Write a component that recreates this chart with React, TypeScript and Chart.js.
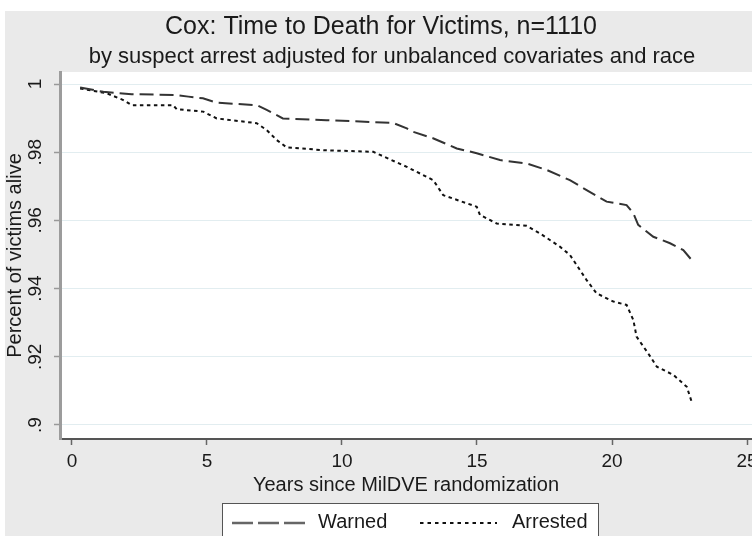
import React, { useEffect, useRef } from "react";
import { Chart, registerables } from "chart.js";

Chart.register(...registerables);

const titleText = "Cox: Time to Death for Victims, n=1110";
const subtitleText = "by suspect arrest adjusted for unbalanced covariates and race";
const xAxisTitle = "Years since MilDVE randomization";
const yAxisTitle = "Percent of victims alive";
const seriesLabels = ["Warned", "Arrested"];

const xTickValues = [0, 5, 10, 15, 20, 25];
const yTickValues = [0.9, 0.92, 0.94, 0.96, 0.98, 1];

const warnedYears = [0.3, 1.16, 2.21, 3.81, 4.31, 4.85, 5.36, 6.84, 7.21, 7.81, 9.43, 11.89, 12.4, 12.63, 13.37, 14.25, 14.99, 15.85, 16.84, 17.58, 18.44, 19.06, 19.8, 20.54, 20.79, 20.97, 21.53, 22.15, 22.64, 22.95];
const warnedSurv = [0.999, 0.9977, 0.997, 0.9968, 0.9963, 0.9958, 0.9945, 0.9938, 0.9924, 0.9899, 0.9894, 0.9886, 0.987, 0.986, 0.9841, 0.9811, 0.9797, 0.9777, 0.9767, 0.9748, 0.9718, 0.9689, 0.9655, 0.9645, 0.9621, 0.9587, 0.9552, 0.9533, 0.9513, 0.9484];

const arrestedYears = [0.3, 1.28, 1.9, 2.21, 3.74, 3.88, 4.86, 5.36, 6.84, 7.21, 7.58, 7.95, 9.31, 11.16, 11.41, 12.4, 13.38, 13.75, 14.99, 15.11, 15.73, 16.84, 17.33, 18.07, 18.44, 19.06, 19.43, 20.05, 20.54, 20.79, 20.91, 21.34, 21.66, 22.27, 22.77, 22.95];
const arrestedSurv = [0.9987, 0.9973, 0.9953, 0.9938, 0.9938, 0.9926, 0.9919, 0.9899, 0.9885, 0.9865, 0.9836, 0.9814, 0.9806, 0.9801, 0.9792, 0.9757, 0.9718, 0.9674, 0.964, 0.9616, 0.9591, 0.9584, 0.9562, 0.9523, 0.9499, 0.9425, 0.9386, 0.9362, 0.9352, 0.9308, 0.9259, 0.921, 0.9171, 0.9147, 0.9112, 0.9068];

const FONT = '"Liberation Sans", Arial, Helvetica, sans-serif';
const TEXT = "#1a1a1a";

const fmtY = (v: number) => {
  const s = Number(v).toFixed(2).replace(/0+$/, "").replace(/\.$/, "");
  return s.startsWith("0") ? s.slice(1) : s;
};

const decorPlugin = {
  id: "decor",
  beforeDraw(chart: any) {
    const { ctx, width, height, chartArea } = chart;
    ctx.save();
    ctx.fillStyle = "#ffffff";
    ctx.fillRect(0, 0, width, height);
    ctx.fillStyle = "#eaeaea";
    ctx.fillRect(5, 11, width - 5, height - 11);
    ctx.fillStyle = "#ffffff";
    ctx.fillRect(chartArea.left, chartArea.top, chartArea.right - chartArea.left, chartArea.bottom - chartArea.top);
    ctx.fillStyle = TEXT;
    ctx.textAlign = "center";
    ctx.textBaseline = "middle";
    ctx.font = `25px ${FONT}`;
    ctx.fillText(titleText, 381, 27);
    ctx.font = `22px ${FONT}`;
    ctx.fillText(subtitleText, 392, 57);
    ctx.restore();
  },
  afterDraw(chart: any) {
    const { ctx } = chart;
    const ds = chart.data.datasets;
    ctx.save();
    ctx.fillStyle = "#ffffff";
    ctx.fillRect(222.5, 503.5, 376, 40);
    ctx.strokeStyle = "#555";
    ctx.lineWidth = 1;
    ctx.setLineDash([]);
    ctx.strokeRect(222.5, 503.5, 376, 40);
    // Warned sample
    ctx.strokeStyle = "#666";
    ctx.lineWidth = 2.5;
    ctx.setLineDash([21, 5]);
    ctx.beginPath();
    ctx.moveTo(232, 523);
    ctx.lineTo(308, 523);
    ctx.stroke();
    // Arrested sample
    ctx.strokeStyle = ds[1].borderColor;
    ctx.lineWidth = 2;
    ctx.setLineDash([3.5, 4]);
    ctx.beginPath();
    ctx.moveTo(420, 523);
    ctx.lineTo(497, 523);
    ctx.stroke();
    ctx.setLineDash([]);
    ctx.fillStyle = TEXT;
    ctx.font = `20px ${FONT}`;
    ctx.textAlign = "left";
    ctx.textBaseline = "middle";
    ctx.fillText(ds[0].label, 318, 522);
    ctx.fillText(ds[1].label, 512, 522);
    ctx.restore();
  },
};

export default function App() {
  const ref = useRef<HTMLCanvasElement | null>(null);
  useEffect(() => {
    if (!ref.current) return;
    const chart = new Chart(ref.current, {
      type: "line",
      data: {
        datasets: [
          {
            label: seriesLabels[0],
            data: warnedYears.map((x, i) => ({ x, y: warnedSurv[i] })),
            borderColor: "#333333",
            borderWidth: 2,
            borderDash: [14, 6],
            pointRadius: 0,
            tension: 0,
            fill: false,
          },
          {
            label: seriesLabels[1],
            data: arrestedYears.map((x, i) => ({ x, y: arrestedSurv[i] })),
            borderColor: "#111111",
            borderWidth: 2,
            borderDash: [3.5, 3.5],
            pointRadius: 0,
            tension: 0,
            fill: false,
          },
        ],
      },
      options: {
        animation: false,
        responsive: false,
        maintainAspectRatio: false,
        layout: { padding: { left: 5, top: 72, right: 0, bottom: 39 } },
        plugins: {
          legend: { display: false },
          title: { display: false },
          tooltip: { enabled: false },
        },
        scales: {
          x: {
            type: "linear",
            min: -0.444,
            max: 25.185,
            afterBuildTicks: (s: any) => {
              s.ticks = xTickValues.map((v) => ({ value: v }));
            },
            afterFit: (s: any) => {
              s.height = 58;
              s.paddingLeft = 0;
              s.paddingRight = 0;
            },
            ticks: {
              autoSkip: false,
              maxRotation: 0,
              padding: 5,
              color: TEXT,
              font: { family: FONT, size: 19 },
              callback: (v: any) => String(v),
            },
            grid: { drawOnChartArea: false, drawTicks: true, tickLength: 6, tickColor: "#666", tickWidth: 1.5 },
            border: { color: "#555", width: 2 },
            title: {
              display: true,
              text: xAxisTitle,
              color: TEXT,
              font: { family: FONT, size: 20 },
              padding: { top: 0, bottom: 0 },
            },
          },
          y: {
            type: "linear",
            min: 0.89589,
            max: 1.00352,
            afterBuildTicks: (s: any) => {
              s.ticks = yTickValues.map((v) => ({ value: v }));
            },
            afterFit: (s: any) => {
              s.width = 55;
              s.paddingTop = 0;
              s.paddingBottom = 0;
            },
            ticks: {
              minRotation: 90,
              maxRotation: 90,
              crossAlign: "center",
              padding: 5,
              color: TEXT,
              font: { family: FONT, size: 19 },
              callback: (v: any) => fmtY(v),
            },
            grid: { color: "#e2edf0", lineWidth: 1, drawTicks: true, tickLength: 6, tickColor: "#999", tickWidth: 1.5 },
            border: { color: "#9c9c9c", width: 3 },
            title: {
              display: true,
              text: yAxisTitle,
              color: TEXT,
              font: { family: FONT, size: 20 },
              padding: { top: -2, bottom: 0 },
            },
          },
        },
      },
      plugins: [decorPlugin],
    } as any);
    return () => chart.destroy();
  }, []);
  return (
    <div style={{ position: "absolute", left: 0, top: 0, width: 752, height: 536 }}>
      <canvas ref={ref} width={752} height={536} style={{ display: "block", width: 752, height: 536 }} />
    </div>
  );
}
